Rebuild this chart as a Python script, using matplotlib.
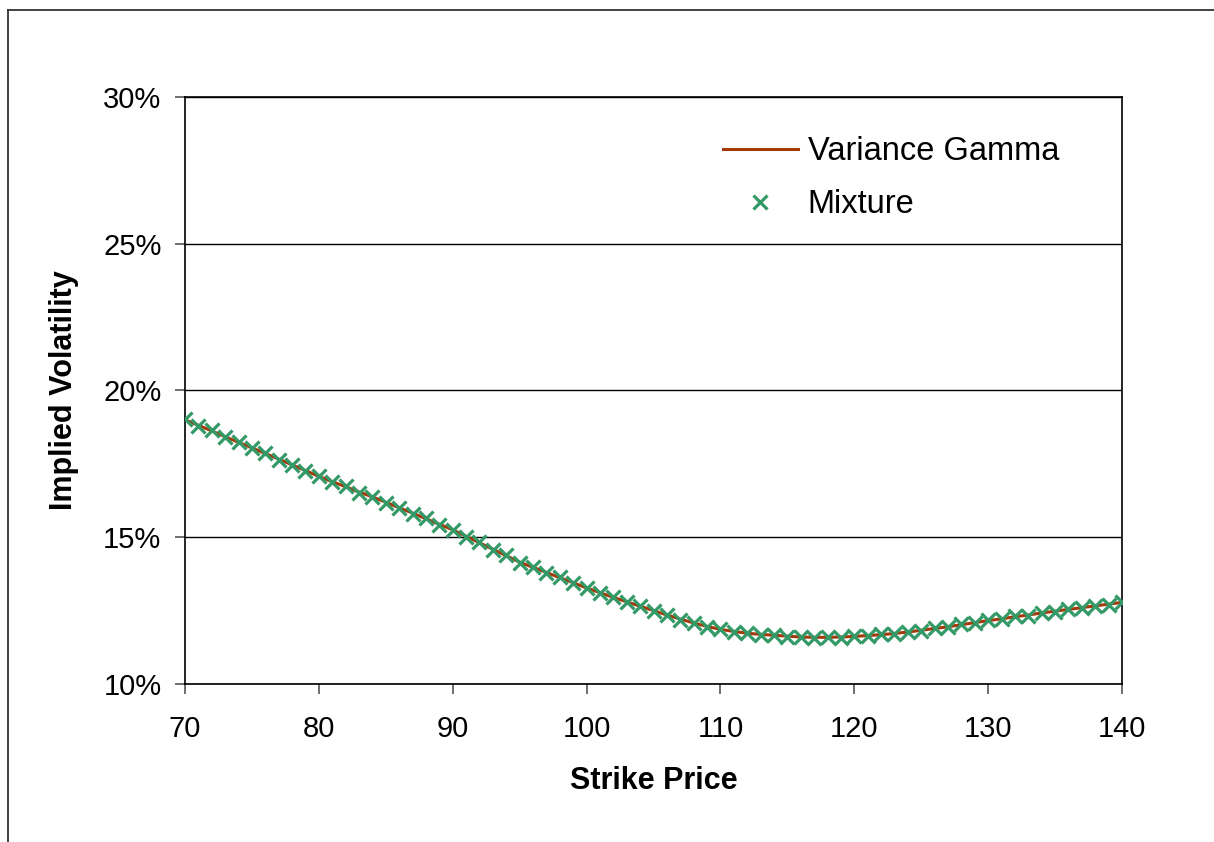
import matplotlib
matplotlib.use('Agg')
import matplotlib.pyplot as plt
import matplotlib.ticker as ticker
from matplotlib.lines import Line2D

# Data (implied vol in %)
strikes = list(range(70, 141))
vg = [19.00, 18.81, 18.62, 18.42, 18.23, 18.04, 17.85, 17.66, 17.46, 17.27,
      17.07, 16.89, 16.72, 16.54, 16.37, 16.19, 16.00, 15.82, 15.63, 15.44,
      15.25, 15.03, 14.81, 14.59, 14.37, 14.15, 13.97, 13.80, 13.62, 13.45,
      13.27, 13.11, 12.95, 12.80, 12.65, 12.50, 12.35, 12.21, 12.08, 11.96,
      11.86, 11.79, 11.73, 11.69, 11.66, 11.63, 11.60, 11.59, 11.59, 11.60,
      11.62, 11.65, 11.68, 11.72, 11.77, 11.83, 11.89, 11.95, 12.02, 12.09,
      12.16, 12.22, 12.29, 12.35, 12.42, 12.48, 12.54, 12.60, 12.66, 12.72,
      12.78]
mixture = [19.01, 18.80, 18.64, 18.41, 18.25, 18.03, 17.86, 17.64, 17.47, 17.25,
           17.08, 16.87, 16.73, 16.52, 16.38, 16.17, 16.01, 15.80, 15.64, 15.42,
           15.26, 15.01, 14.83, 14.57, 14.39, 14.13, 13.98, 13.78, 13.63, 13.43,
           13.28, 13.09, 12.96, 12.78, 12.66, 12.48, 12.36, 12.19, 12.09, 11.94,
           11.87, 11.77, 11.74, 11.67, 11.67, 11.61, 11.61, 11.57, 11.60, 11.58,
           11.63, 11.63, 11.69, 11.70, 11.78, 11.81, 11.90, 11.93, 12.03, 12.07,
           12.17, 12.20, 12.30, 12.33, 12.43, 12.46, 12.55, 12.58, 12.67, 12.70,
           12.79]
vg = [v / 100 for v in vg]
mixture = [v / 100 for v in mixture]

plt.rcParams['font.family'] = ['Liberation Sans', 'DejaVu Sans']

fig = plt.figure(figsize=(12.14, 8.42), dpi=100)
ax = fig.add_axes([185 / 1214, 1 - 684 / 842, (1122 - 185) / 1214, (684 - 96.7) / 842])

# outer chart border (runs off the right and bottom edges)
fig.add_artist(Line2D([8 / 1214, 8 / 1214], [-0.01, 1 - 9.5 / 842], color='#333333', lw=1.3))
fig.add_artist(Line2D([8 / 1214, 1.01], [1 - 9.5 / 842, 1 - 9.5 / 842], color='#333333', lw=1.3))

ax.plot(strikes, vg, color='#A33A0C', lw=2.2, label='Variance Gamma', zorder=2)
ax.plot(strikes, mixture, ls='none', marker='x', ms=10.5, mew=2.3, color='#339966',
        label='Mixture', zorder=3)

ax.set_xlim(70, 140)
ax.set_ylim(0.10, 0.30)
ax.set_xticks(range(70, 141, 10))
ax.set_yticks([0.10, 0.15, 0.20, 0.25, 0.30])
ax.yaxis.set_major_formatter(ticker.FuncFormatter(lambda v, p: '%d%%' % round(v * 100)))
ax.grid(True, axis='y', color='black', lw=1.0)
ax.set_axisbelow(True)
for s in ax.spines.values():
    s.set_color('black')
    s.set_linewidth(1.2)
ax.tick_params(axis='both', direction='out', length=7, width=1.2, labelsize=21,
               color='#555555', pad=10)
ax.tick_params(axis='x', pad=15)

ax.set_xlabel('Strike Price', fontsize=22, fontweight='bold', labelpad=17)
ax.set_ylabel('Implied Volatility', fontsize=22, fontweight='bold', labelpad=17)

ax.legend(loc='upper left', bbox_to_anchor=(0.56, 0.955), frameon=False, fontsize=23.5,
          handlelength=2.3, handletextpad=0.3, labelspacing=0.68, borderaxespad=0)

fig.savefig('out.png', dpi=100)
